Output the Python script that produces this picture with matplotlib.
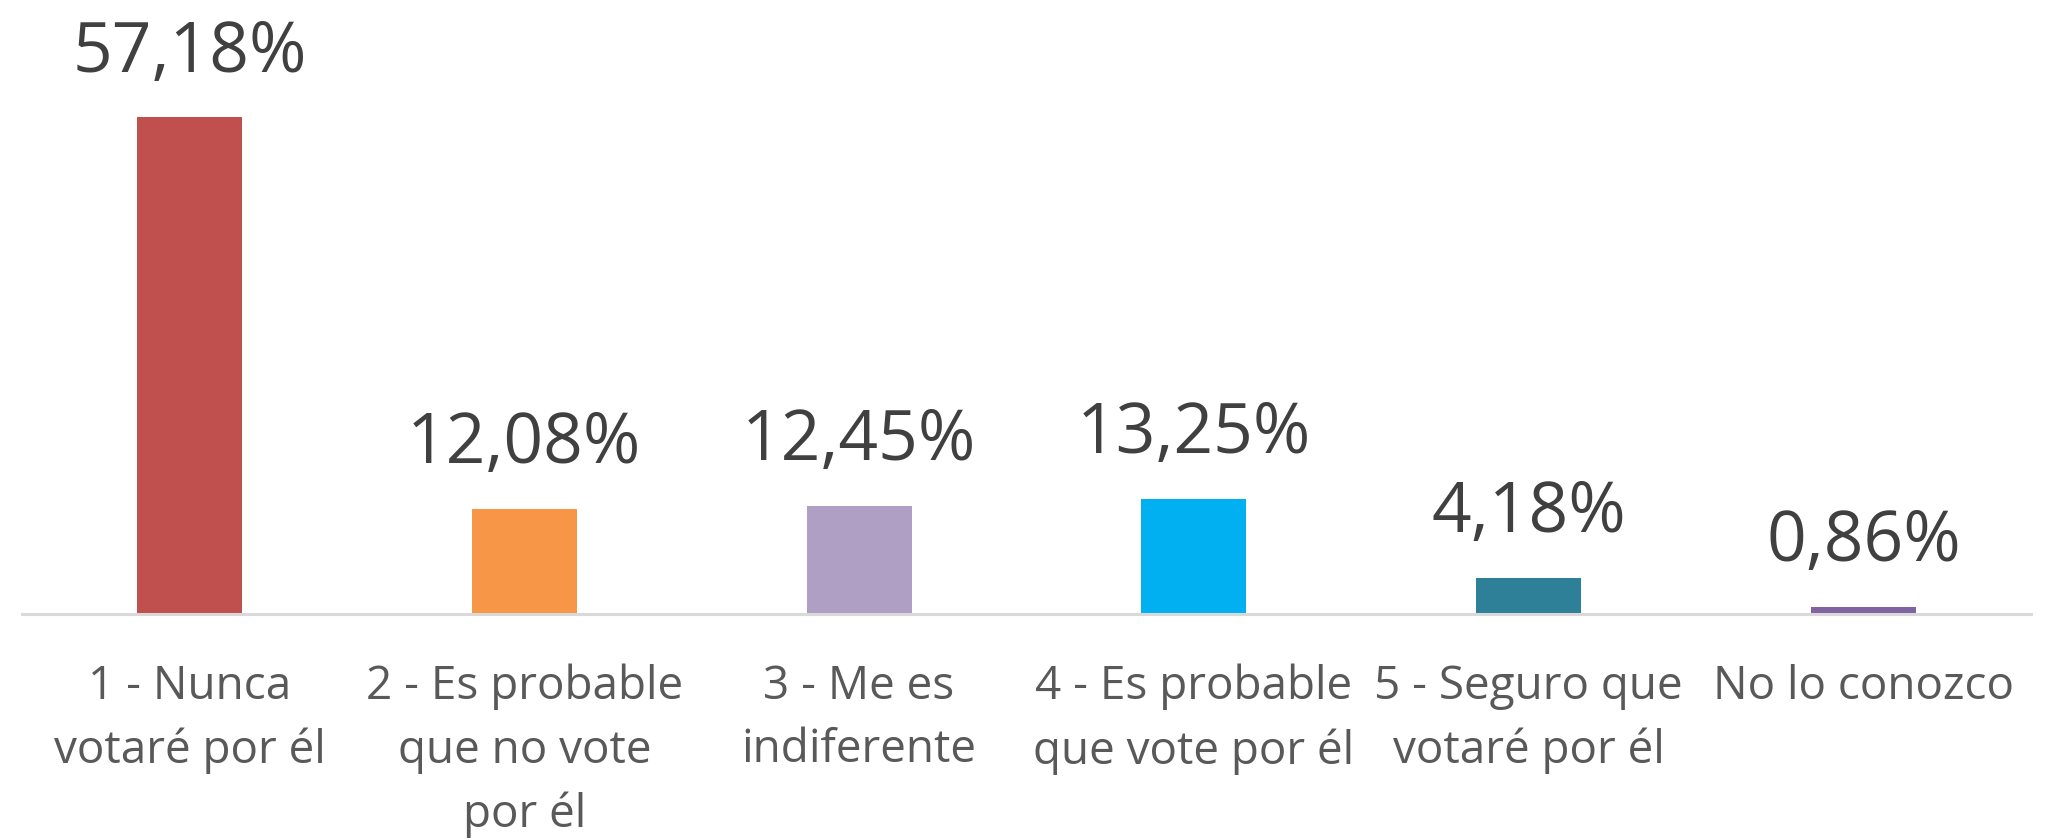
import matplotlib.pyplot as plt

categories = ['1 - Nunca\nvotaré por él',
              '2 - Es probable\nque no vote\npor él',
              '3 - Me es\nindiferente',
              '4 - Es probable\nque vote por él',
              '5 - Seguro que\nvotaré por él',
              'No lo conozco']
values = [57.18, 12.08, 12.45, 13.25, 4.18, 0.86]
colors = ['#C0504D', '#F79646', '#B09FC4', '#00B0F0', '#2E8099', '#8064A2']

plt.rcParams['font.family'] = ['Open Sans', 'DejaVu Sans']

fig = plt.figure(figsize=(20.67, 8.4), dpi=100)
ax = fig.add_axes([22 / 2067, (840 - 614) / 840, 2009 / 2067, 614 / 840])

x = range(len(values))
ax.bar(x, values, width=0.314, color=colors, zorder=2)

for i, v in enumerate(values):
    ax.annotate(f'{v:.2f}%'.replace('.', ','), (i, v), xytext=(0, 33),
                textcoords='offset points', ha='center', va='baseline',
                fontsize=50, color='#404040')

ax.set_xlim(-0.5, len(values) - 0.5)
ax.set_ylim(0, 70.7)

ax.set_xticks(list(x))
ax.set_xticklabels(categories, fontsize=33, color='#595959', linespacing=1.5)
ax.tick_params(axis='x', length=0, pad=36)
ax.set_yticks([])

for side in ['left', 'right', 'top']:
    ax.spines[side].set_visible(False)
ax.spines['bottom'].set_color('#D9D9D9')
ax.spines['bottom'].set_linewidth(2.2)

fig.savefig('out.png', dpi=100)
